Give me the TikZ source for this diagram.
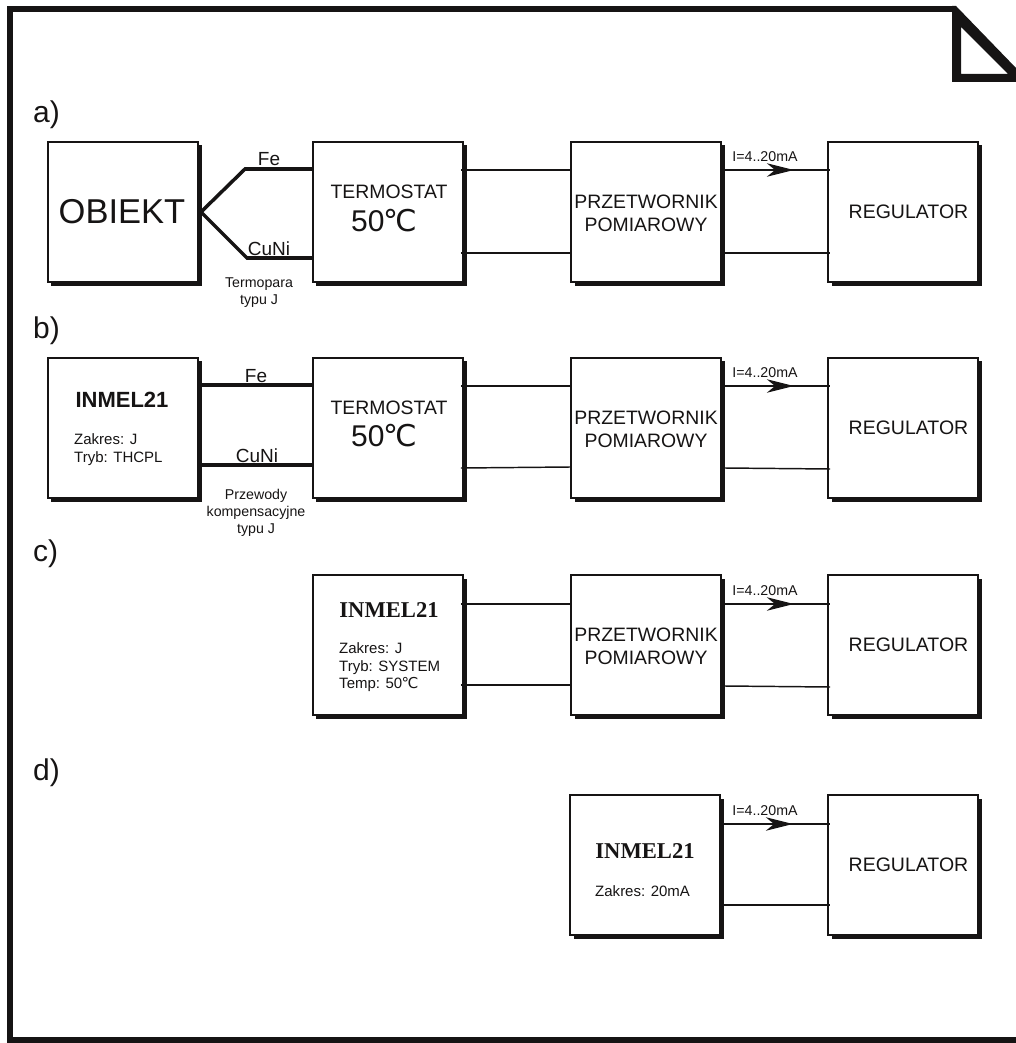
\documentclass[tikz,border=0pt]{standalone}
\usepackage{fontspec}
\setmainfont{Liberation Sans}
\newfontfamily\serifbold{Liberation Serif}[BoldFont={Liberation Serif Bold}]
\newfontfamily\degfont{DejaVu Sans}
\usetikzlibrary{arrows.meta,positioning,calc}
\newcommand{\pxfont}[1]{\pgfmathsetmacro\pxsize{#1*0.8536}\pgfmathsetmacro\pxskip{#1*1.02}\fontsize{\pxsize pt}{\pxskip pt}\selectfont}
\newcommand{\degC}{{\degfont\kern-0.04em ℃}}
\definecolor{inkblack}{RGB}{22,20,20}
\tikzset{
  frameline/.style={line width=6*0.8536pt,draw=inkblack,line cap=butt,line join=miter},
  block/.style={rectangle,draw=inkblack,fill=white,line width=1.35pt,minimum width=150*0.8536pt,minimum height=140*0.8536pt,inner sep=0pt,align=center,text=inkblack},
  blockshade/.style={rectangle,fill=inkblack,minimum width=150*0.8536pt,minimum height=140*0.8536pt,inner sep=0pt},
  wire/.style={line width=1.25pt,draw=inkblack},
  thickwire/.style={line width=3pt,draw=inkblack},
  flow/.style={line width=1.25pt,draw=inkblack,-{Stealth[length=23pt,width=11.5pt,inset=7pt]}},
  rowlabel/.style={font=\pxfont{30},text=inkblack,anchor=base west,inner sep=0pt},
  smalllabel/.style={font=\pxfont{14.2},text=inkblack,align=center,inner sep=0pt},
  wirelabel/.style={font=\pxfont{19},text=inkblack,anchor=base,inner sep=0pt},
  blocktext/.style={font=\pxfont{19.4},text=inkblack,align=center,inner sep=0pt},
  regtext/.style={font=\pxfont{19.5},text=inkblack,inner sep=0pt},
  hottext/.style={font=\pxfont{30},text=inkblack,inner sep=0pt},
  smalltext/.style={font=\pxfont{15},text=inkblack,align=left,inner sep=0pt,anchor=north west}
}
\newcommand{\blockat}[2]{% name, centre
  \node[blockshade] at ($(#2)+(3.5,3.5)$) {};
  \node[block] (#1) at (#2) {};
}
\begin{document}
\begin{tikzpicture}[x=0.03cm,y=-0.03cm]
  \useasboundingbox (0,0) rectangle (1016,1043);

  % frame with the folded corner
  \draw[frameline] (1016,1040) -- (10,1040) -- (10,9) -- (955,9);
  \fill[inkblack,even odd rule] (952,6) -- (956,6) -- (1016,68) -- (1016,82) -- (952,82) -- cycle
    (961,27) -- (1008,74) -- (961,74) -- cycle;

  % row a
  \node[rowlabel] (la) at (33,123) {a)};
  \blockat{obiekt}{123,212}
  \blockat{termA}{388,212}
  \blockat{przetA}{646,212}
  \blockat{regA}{903,212}
  \node[font=\pxfont{34.5},text=inkblack,inner sep=0pt] (obiektT) at (122,212) {OBIEKT};
  \node[blocktext] (termAT) at (389,192) {TERMOSTAT};
  \node[hottext] (hotA) at (384,221) {50\degC};
  \node[blocktext] (przetAT) at (646,213.5) {PRZETWORNIK\\POMIAROWY};
  \node[regtext] (regAT) at (908.5,212) {REGULATOR};

  \coordinate (forkA) at (201,212);
  \coordinate (feA) at (245,169);
  \coordinate (cuA) at (247,258);
  \draw[thickwire] (forkA) -- (feA) -- (feA -| termA.west);
  \draw[thickwire] (forkA) -- (cuA) -- (cuA -| termA.west);
  \node[wirelabel] (feAT) at (269,166) {Fe};
  \node[wirelabel] (cuAT) at (269,255) {CuNi};
  \node[smalllabel] (typeA) at (259,293) {Termopara\\typu J};

  \draw[wire] ($(termA.east)+(-3,-42)$) -- ($(przetA.west)+(0,-42)$);
  \draw[wire] ($(termA.east)+(-3,41)$) -- ($(przetA.west)+(0,41)$);
  \draw[flow] ($(przetA.east)+(3,-42)$) -- ++(69,0);
  \draw[wire] ($(przetA.east)+(66,-42)$) -- ($(regA.west)+(3,-42)$);
  \draw[wire] ($(przetA.east)+(3,41)$) -- ($(regA.west)+(3,41)$);
  \node[smalllabel] (curA) at (765,157) {I=4..20mA};

  % row b
  \node[rowlabel] (lb) at (33,338) {b)};
  \blockat{inmelB}{123,428}
  \blockat{termB}{388,428}
  \blockat{przetB}{646,428}
  \blockat{regB}{903,428}
  \node[font=\pxfont{22}\bfseries,text=inkblack,inner sep=0pt] (inmelBT) at (122,400) {INMEL21};
  \node[smalltext] (infoB) at (74,433) {Zakres: J\\Tryb: THCPL};
  \node[blocktext] (termBT) at (389,408) {TERMOSTAT};
  \node[hottext] (hotB) at (384,436) {50\degC};
  \node[blocktext] (przetBT) at (646,429.5) {PRZETWORNIK\\POMIAROWY};
  \node[regtext] (regBT) at (908.5,428) {REGULATOR};

  \draw[thickwire] ($(inmelB.east)+(3,-43)$) -- ($(termB.west)+(0,-43)$);
  \draw[thickwire] ($(inmelB.east)+(3,37)$) -- ($(termB.west)+(0,37)$);
  \node[wirelabel] (feBT) at (256,382) {Fe};
  \node[wirelabel] (cuBT) at (257,462) {CuNi};
  \node[smalllabel] (typeB) at (256,513) {Przewody\\kompensacyjne\\typu J};

  \draw[wire] ($(termB.east)+(-3,-42)$) -- ($(przetB.west)+(0,-42)$);
  \draw[wire] ($(termB.east)+(-3,40)$) -- ($(przetB.west)+(0,39)$);
  \draw[flow] ($(przetB.east)+(3,-42)$) -- ++(69,0);
  \draw[wire] ($(przetB.east)+(66,-42)$) -- ($(regB.west)+(3,-42)$);
  \draw[wire] ($(przetB.east)+(3,40)$) -- ($(regB.west)+(3,41)$);
  \node[smalllabel] (curB) at (765,373) {I=4..20mA};

  % row c
  \node[rowlabel] (lc) at (33,561) {c)};
  \blockat{inmelC}{388,645}
  \blockat{przetC}{646,645}
  \blockat{regC}{903,645}
  \node[font=\pxfont{22.6}\serifbold\bfseries,text=inkblack,inner sep=0pt] (inmelCT) at (389,610) {INMEL21};
  \node[smalltext] (infoC) at (339,642) {Zakres: J\\Tryb: SYSTEM\\Temp: 50\degC};
  \node[blocktext] (przetCT) at (646,646.5) {PRZETWORNIK\\POMIAROWY};
  \node[regtext] (regCT) at (908.5,645) {REGULATOR};

  \draw[wire] ($(inmelC.east)+(-3,-41)$) -- ($(przetC.west)+(0,-41)$);
  \draw[wire] ($(inmelC.east)+(-3,40)$) -- ($(przetC.west)+(0,40)$);
  \draw[flow] ($(przetC.east)+(3,-41)$) -- ++(69,0);
  \draw[wire] ($(przetC.east)+(66,-41)$) -- ($(regC.west)+(3,-41)$);
  \draw[wire] ($(przetC.east)+(3,41)$) -- ($(regC.west)+(3,42)$);
  \node[smalllabel] (curC) at (765,591) {I=4..20mA};

  % row d
  \node[rowlabel] (ld) at (33,780) {d)};
  \blockat{inmelD}{645,865}
  \blockat{regD}{903,865}
  \node[font=\pxfont{22.6}\serifbold\bfseries,text=inkblack,inner sep=0pt] (inmelDT) at (645,851) {INMEL21};
  \node[smalltext] (infoD) at (595,885) {Zakres: 20mA};
  \node[regtext] (regDT) at (908.5,865) {REGULATOR};

  \draw[flow] ($(inmelD.east)+(3,-41)$) -- ++(69,0);
  \draw[wire] ($(inmelD.east)+(66,-41)$) -- ($(regD.west)+(3,-41)$);
  \draw[wire] ($(inmelD.east)+(3,40)$) -- ($(regD.west)+(3,40)$);
  \node[smalllabel] (curD) at (765,811) {I=4..20mA};
\end{tikzpicture}
\end{document}
